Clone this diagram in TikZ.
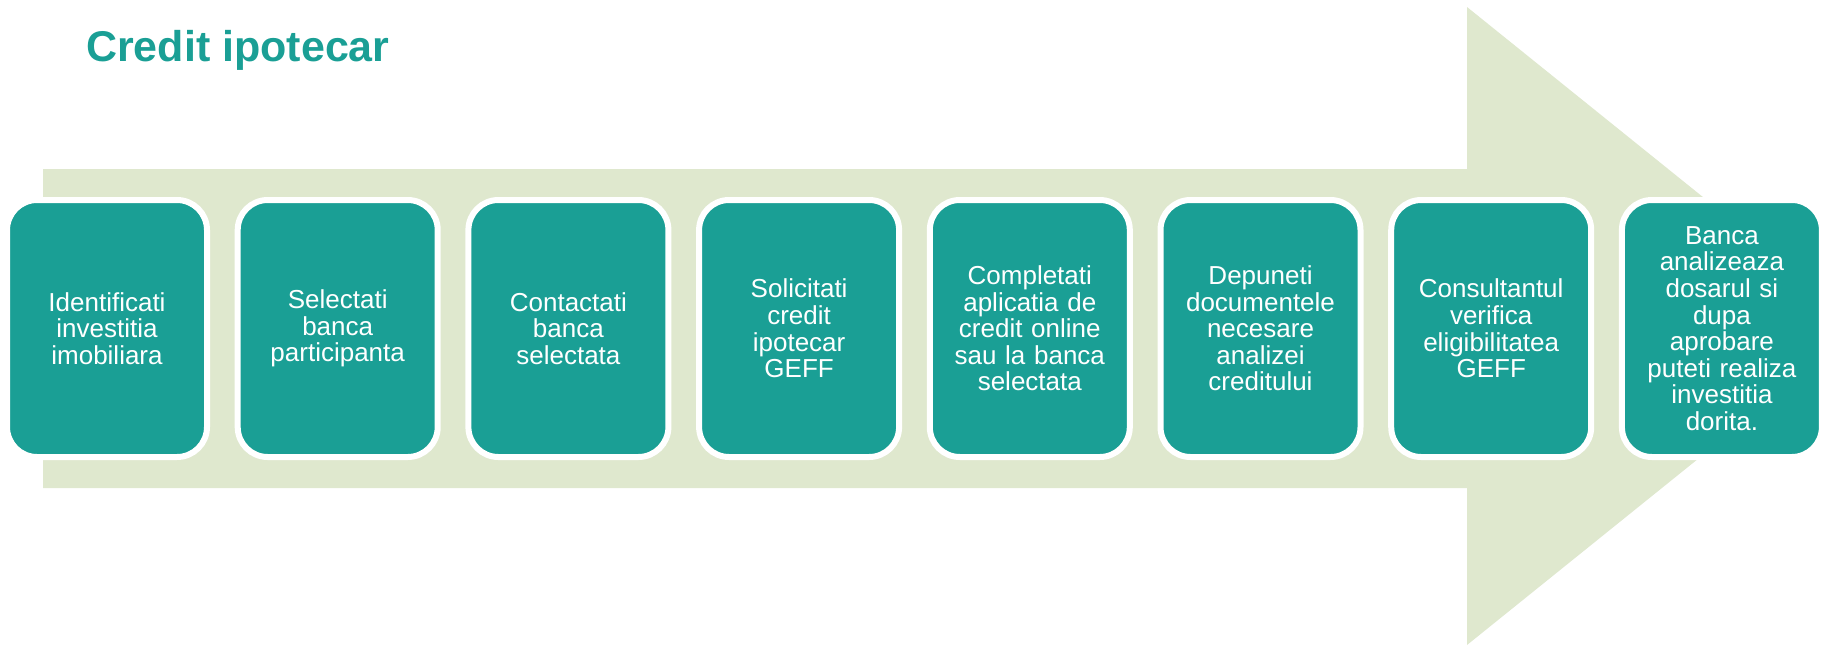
\documentclass[tikz,border=0pt]{standalone}
\usepackage{fontspec}
\setmainfont{Liberation Sans}
\definecolor{teal1}{HTML}{1A9F95}
\definecolor{lgreen}{HTML}{DFE8CE}
\begin{document}
\begin{tikzpicture}[x=1pt,y=-1pt,
  stepbox/.style={draw=white, line width=6pt, fill=teal1, rounded corners=30pt,
    minimum width=200pt, minimum height=257pt, text width=196pt, align=center,
    inner sep=0pt, text=white, font=\fontsize{26}{26.6}\selectfont}]
\useasboundingbox (0,0) rectangle (1822,645);
\clip (0,0) rectangle (1822,645);
\fill[lgreen] (43,169) -- (1467,169) -- (1467,7) -- (1863,326) -- (1467,645) -- (1467,488) -- (43,488) -- cycle;
\node[anchor=base west, text=teal1, inner sep=0pt, font=\fontsize{43}{48}\selectfont\bfseries] (title) at (86,61) {Credit ipotecar};
\node[stepbox] (s1) at (107,328.5) {Identificati\\investitia\\imobiliara};
\node[stepbox] (s2) at (337.7,328.5) {Selectati\\banca\\participanta};
\node[stepbox] (s3) at (568.4,328.5) {Contactati\\banca\\selectata};
\node[stepbox] (s4) at (799.1,328.5) {Solicitati\\credit\\ipotecar\\GEFF};
\node[stepbox] (s5) at (1029.8,328.5) {Completati\\aplicatia de\\credit online\\sau la banca\\selectata};
\node[stepbox] (s6) at (1260.5,328.5) {Depuneti\\documentele\\necesare\\analizei\\creditului};
\node[stepbox] (s7) at (1491.2,328.5) {Consultantul\\verifica\\eligibilitatea\\GEFF};
\node[stepbox] (s8) at (1721.9,328.5) {Banca\\analizeaza\\dosarul si\\dupa\\aprobare\\puteti realiza\\investitia\\dorita.};
\end{tikzpicture}
\end{document}
